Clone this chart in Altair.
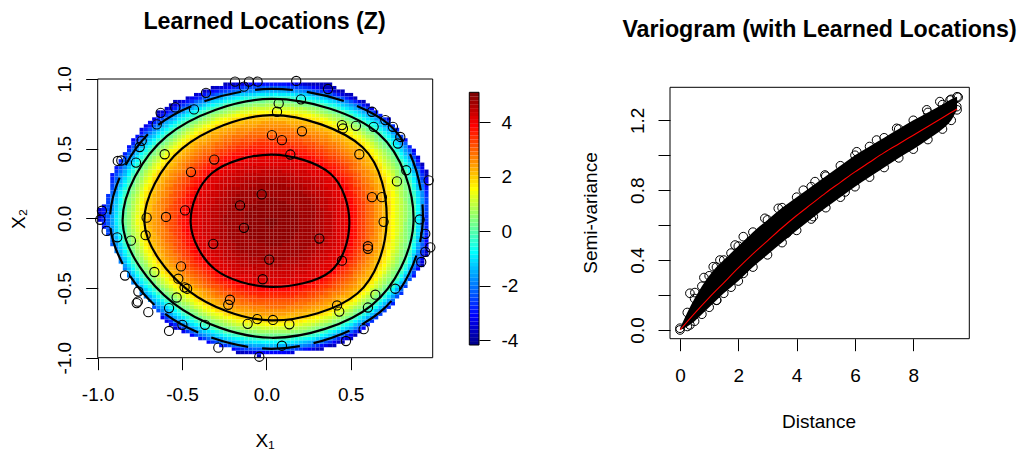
import numpy as np
import pandas as pd
import altair as alt

FONT = "Liberation Sans"

# ---------------- colour palette (fields::tim.colors(64)) ----------------
TIM = ["#00008F","#00009F","#0000AF","#0000BF","#0000CF","#0000DF","#0000EF","#0000FF",
       "#0010FF","#0020FF","#0030FF","#0040FF","#0050FF","#0060FF","#0070FF","#0080FF",
       "#008FFF","#009FFF","#00AFFF","#00BFFF","#00CFFF","#00DFFF","#00EFFF","#00FFFF",
       "#10FFEF","#20FFDF","#30FFCF","#40FFBF","#50FFAF","#60FF9F","#70FF8F","#80FF80",
       "#8FFF70","#9FFF60","#AFFF50","#BFFF40","#CFFF30","#DFFF20","#EFFF10","#FFFF00",
       "#FFEF00","#FFDF00","#FFCF00","#FFBF00","#FFAF00","#FF9F00","#FF8F00","#FF8000",
       "#FF7000","#FF6000","#FF5000","#FF4000","#FF3000","#FF2000","#FF1000","#FF0000",
       "#EF0000","#DF0000","#CF0000","#BF0000","#AF0000","#9F0000","#8F0000","#800000"]
z_min, z_max = -4.18, 5.10

# ---------------- left panel: learned locations ----------------
loc_x = [-0.186,-0.133,-0.103,-0.052,0.177,-0.358,-0.54,-0.627,-0.429,-0.65,-0.739,-0.751,-0.881,-0.86,-0.773,
         -0.603,-0.309,-0.447,-0.028,-0.156,-0.482,-0.595,-0.71,-0.975,-0.985,-0.947,
         -0.884,-0.803,-0.716,-0.133,-0.315,0.017,-0.022,-0.506,-0.664,-0.838,-0.522,-0.485,-0.47,-0.532,
         -0.759,-0.769,-0.762,-0.70,-0.577,-0.498,-0.577,-0.364,-0.285,-0.216,-0.226,-0.111,-0.054,-0.042,
         0.039,0.136,0.092,0.472,0.577,0.419,0.432,0.602,0.646,0.764,0.448,0.602,0.602,0.314,0.695,0.909,
         0.942,0.972,0.942,0.918,
         0.626,0.685,0.774,0.829,0.962,0.78,0.794,0.75,0.705,0.626,0.636,0.531,0.448,0.454,0.551,0.365,
         0.205,0.073,0.063,0.211,0.033,0.092,0.142]
loc_y = [0.981,0.945,0.981,0.981,0.986,0.901,0.796,0.757,0.782,0.674,0.556,0.512,0.412,0.415,0.40,
         0.46,0.422,0.332,0.172,0.093,0.057,0.01,0.005,0.055,-0.01,-0.09,
         -0.136,-0.16,-0.121,-0.068,-0.183,-0.296,-0.437,-0.345,-0.385,-0.41,-0.433,-0.495,-0.505,-0.568,
         -0.525,-0.608,-0.598,-0.673,-0.644,-0.764,-0.808,-0.764,-0.928,-0.584,-0.62,-0.757,-0.723,-0.993,
         -0.729,-0.76,-0.914,-0.88,-0.795,-0.625,-0.669,-0.64,-0.548,-0.505,-0.304,-0.20,-0.219,-0.145,-0.025,-0.008,
         -0.111,-0.208,-0.241,-0.313,
         0.152,0.152,0.265,0.345,0.273,0.537,0.584,0.657,0.705,0.765,0.657,0.664,0.669,0.645,0.46,0.928,
         0.854,0.825,0.765,0.625,0.597,0.561,0.458]

# outline of the drawn surface
edge_x = [-0.20,0.20,0.369,0.567,0.725,0.843,0.922,0.962,0.972,0.972,0.93,0.764,0.645,0.527,0.369,0.15,-0.04,-0.15,
          -0.226,-0.423,-0.581,-0.70,-0.80,-0.858,-0.917,-0.976,-0.99,-0.993,-0.947,-0.917,-0.838,-0.759,-0.641,-0.542,-0.364]
edge_y = [0.984,0.984,0.969,0.849,0.717,0.548,0.404,0.309,0.25,-0.22,-0.33,-0.597,-0.74,-0.86,-0.932,-0.965,-0.99,-0.975,
          -0.932,-0.86,-0.764,-0.597,-0.453,-0.332,-0.188,-0.044,-0.02,0.06,0.116,0.309,0.476,0.62,0.765,0.837,0.921]

# contour radii (distance from the peak) in 8 directions: E, NE, N, NW, W, SW, S, SE
peak_x, peak_y = 0.03, -0.03
dir_deg = [0, 45, 90, 135, 180, 225, 270, 315]
rad_4 = [0.462, 0.495, 0.488, 0.50, 0.479, 0.474, 0.462, 0.495]
rad_2 = [0.683, 0.764, 0.771, 0.75, 0.753, 0.693, 0.702, 0.72]
rad_0 = [0.842, 0.90, 0.887, 0.877, 0.882, 0.82, 0.827, 0.84]
rad_m2 = [0.897, 0.99, 0.959, 0.97, 0.957, 0.91, 0.906, 0.91]
rad_edge = [0.944, 1.02, 1.014, 1.03, 1.024, 0.95, 0.947, 0.947]
peak_value, mid_value, edge_value = 5.0, 4.7, -3.6

# ---------------- right panel: variogram ----------------
vg_d = [0, 0.25, 0.5, 0.75, 1.0, 1.25, 1.5, 1.75, 2.0, 2.5, 3.0, 3.5, 4.0, 4.5, 5.0, 5.5, 6.0, 6.5, 7.0, 7.5, 8.0, 8.5, 9.0, 9.3, 9.5]
vg_hi = [0.01, 0.10, 0.18, 0.25, 0.31, 0.36, 0.40, 0.44, 0.48, 0.56, 0.63, 0.70, 0.76, 0.82, 0.88, 0.94, 1.00, 1.05, 1.10, 1.15, 1.20, 1.245, 1.29, 1.32, 1.335]
vg_lo = [0.0, 0.02, 0.05, 0.09, 0.13, 0.17, 0.21, 0.245, 0.28, 0.36, 0.43, 0.50, 0.57, 0.635, 0.70, 0.76, 0.82, 0.875, 0.93, 0.985, 1.035, 1.09, 1.15, 1.20, 1.26]
# individual circles that stick out of the dense band
out_d = [0.34, 0.51, 0.82, 1.14, 1.37, 1.89, 2.17, 2.91, 3.37, 4.23, 4.63, 4.97, 6.06, 6.74, 7.43, 8.46, 8.91,
         9.26, 9.54, 9.49,
         0.34, 1.26, 2.17, 3.66, 4.57, 5.66, 6.74, 7.94, 8.8]
out_g = [0.21, 0.214, 0.30, 0.362, 0.40, 0.486, 0.534, 0.639, 0.696, 0.80, 0.849, 0.887, 1.02, 1.087, 1.154, 1.26, 1.307,
         1.316, 1.332, 1.278,
         0.029, 0.17, 0.324, 0.553, 0.649, 0.79, 0.935, 1.068, 1.183]
fit_d = [0, 0.5, 1, 1.5, 2, 2.5, 3, 3.5, 4, 4.5, 5, 5.5, 6, 6.5, 7, 7.5, 8, 8.5, 9, 9.5]
fit_g = [0, 0.095, 0.185, 0.27, 0.355, 0.435, 0.51, 0.585, 0.655, 0.72, 0.785, 0.845, 0.905, 0.96,
         1.015, 1.065, 1.115, 1.165, 1.215, 1.265]

# ---------------- layout (pixel ranges of the plot regions) ----------------
L_XDOM, L_YDOM = [-1.0, 0.986], [-1.0, 1.0]
R_XDOM, R_YDOM = [-0.343, 9.92], [-0.05, 1.389]
L_XR, L_YR = [97.7, 432.7], [357.7, 79.0]
R_XR, R_YR = [670.0, 969.3], [338.7, 87.3]
C_XR, C_YR = [469.3, 479.0], [345.0, 92.3]
W, H = 1021, 453

# ---------------- build tables ----------------
def inside_poly(px, py, vx, vy):
    vx = np.asarray(vx); vy = np.asarray(vy)
    res = np.zeros(px.shape, dtype=bool)
    n = len(vx)
    j = n - 1
    for i in range(n):
        cond = ((vy[i] > py) != (vy[j] > py)) & \
               (px < (vx[j] - vx[i]) * (py - vy[i]) / (vy[j] - vy[i] + 1e-12) + vx[i])
        res ^= cond
        j = i
    return res

nx, ny = 80, 80
xe = np.linspace(L_XDOM[0], L_XDOM[1], nx + 1)
ye = np.linspace(L_YDOM[0], L_YDOM[1], ny + 1)
XC, YC = np.meshgrid((xe[:-1] + xe[1:]) / 2, (ye[:-1] + ye[1:]) / 2)
X0, Y0 = np.meshgrid(xe[:-1], ye[:-1])
X1, Y1 = np.meshgrid(xe[1:], ye[1:])
dx, dy = XC - peak_x, YC - peak_y
rr = np.hypot(dx, dy)
th = np.degrees(np.arctan2(dy, dx)) % 360
ang = dir_deg + [360]

def at_dir(tab):
    return np.interp(th, ang, tab + [tab[0]])

R4, R2, R0, RM2, RE = at_dir(rad_4), at_dir(rad_2), at_dir(rad_0), at_dir(rad_m2), at_dir(rad_edge)
vals = np.empty(rr.shape)
for idx in np.ndindex(rr.shape):
    vals[idx] = np.interp(rr[idx],
                          [0, R4[idx] * 0.55, R4[idx], R2[idx], R0[idx], RM2[idx], RE[idx]],
                          [peak_value, mid_value, 4, 2, 0, -2, edge_value])
mask = inside_poly(XC, YC, edge_x, edge_y)
heat_df = pd.DataFrame({"x": X0[mask], "x2": X1[mask], "y": Y0[mask], "y2": Y1[mask], "v": vals[mask]})

rows = []
for lev, tab in [("4", rad_4), ("2", rad_2), ("0", rad_0), ("-2", rad_m2)]:
    for k, (a, r) in enumerate(zip(dir_deg, tab)):
        rows.append({"level": lev, "k": k,
                     "x": peak_x + r * np.cos(np.radians(a)),
                     "y": peak_y + r * np.sin(np.radians(a))})
cont_df = pd.DataFrame(rows)

pts_df = pd.DataFrame({"x": loc_x, "y": loc_y})
lbox_df = pd.DataFrame({"x": [L_XDOM[0]], "x2": [L_XDOM[1]], "y": [L_YDOM[0]], "y2": [L_YDOM[1]]})

band_df = pd.DataFrame({"d": vg_d, "lo": vg_lo, "hi": vg_hi})
circ_df = pd.DataFrame({"d": vg_d + vg_d + out_d, "g": vg_hi + vg_lo + out_g})
fit_df = pd.DataFrame({"d": fit_d, "g": fit_g})
rbox_df = pd.DataFrame({"d": [R_XDOM[0]], "d2": [R_XDOM[1]], "g": [R_YDOM[0]], "g2": [R_YDOM[1]]})

cedges = np.linspace(z_min, z_max, len(TIM) + 1)
cbar_df = pd.DataFrame({"x": 0.0, "x2": 1.0, "y": cedges[:-1], "y2": cedges[1:],
                        "v": (cedges[:-1] + cedges[1:]) / 2})
cbox_df = pd.DataFrame({"x": [0.0], "x2": [1.0], "y": [z_min], "y2": [z_max]})

# ---------------- scales & axes ----------------
def sc(dom, rng):
    return alt.Scale(domain=dom, range=rng, zero=False, nice=False)

col_scale = alt.Scale(type="quantize", domain=[z_min, z_max], range=TIM)
MINUS = "replace(datum.label, '\u2212', '-')"
common = dict(domain=False, grid=False, title=None, labelFont=FONT, labelFontSize=19,
              labelColor="black", tickColor="black", tickWidth=1, labelFlush=False,
              labelOverlap=False)

lx_axis = alt.Axis(orient="bottom", offset=L_YR[0] - H, values=[-1, -0.5, 0, 0.5], format=".1f",
                   labelExpr=MINUS, tickSize=12, labelPadding=31, labelBaseline="alphabetic", **common)
ly_axis = alt.Axis(orient="left", offset=-L_XR[0], values=[-1, -0.5, 0, 0.5, 1], format=".1f",
                   labelExpr=MINUS, tickSize=12, labelPadding=15, labelAngle=270, labelAlign="center",
                   labelBaseline="alphabetic", **common)
rx_axis = alt.Axis(orient="bottom", offset=R_YR[0] - H, values=[0, 2, 4, 6, 8], format="d",
                   tickSize=12, labelPadding=31, labelBaseline="alphabetic", **common)
ry_axis = alt.Axis(orient="left", offset=-R_XR[0], values=[0, 0.2, 0.4, 0.6, 0.8, 1.0, 1.2], format=".1f",
                   labelExpr="indexof(['0.0','0.4','0.8','1.2'], datum.label) >= 0 ? datum.label : ''",
                   tickSize=12, labelPadding=15, labelAngle=270, labelAlign="center",
                   labelBaseline="alphabetic", **common)
cy_axis = alt.Axis(orient="right", offset=C_XR[1] - W, values=[-4, -2, 0, 2, 4], format="d",
                   labelExpr=MINUS, tickSize=11, labelPadding=11, labelAlign="left",
                   labelBaseline="middle", **common)

lxs, lys = sc(L_XDOM, L_XR), sc(L_YDOM, L_YR)
rxs, rys = sc(R_XDOM, R_XR), sc(R_YDOM, R_YR)
cxs, cys = sc([0, 1], C_XR), sc([z_min, z_max], C_YR)

# ---------------- left panel ----------------
heat = alt.Chart(heat_df).mark_rect(strokeWidth=0).encode(
    x=alt.X("x:Q", scale=lxs, axis=lx_axis), x2="x2:Q",
    y=alt.Y("y:Q", scale=lys, axis=ly_axis), y2="y2:Q",
    color=alt.Color("v:Q", scale=col_scale, legend=None))
cont_solid = alt.Chart(cont_df).transform_filter("datum.level != '-2'").mark_line(
    interpolate="cardinal-closed", color="black", strokeWidth=2.2).encode(
    x=alt.X("x:Q", scale=lxs), y=alt.Y("y:Q", scale=lys), detail="level:N", order="k:Q")
cont_dash = alt.Chart(cont_df).transform_filter("datum.level == '-2'").mark_line(
    interpolate="cardinal-closed", color="black", strokeWidth=2.2, strokeDash=[38, 14]).encode(
    x=alt.X("x:Q", scale=lxs), y=alt.Y("y:Q", scale=lys), detail="level:N", order="k:Q")
pts = alt.Chart(pts_df).mark_point(shape="circle", filled=False, color="black", size=85,
                                   strokeWidth=1.1, opacity=1).encode(
    x=alt.X("x:Q", scale=lxs), y=alt.Y("y:Q", scale=lys))
lbox = alt.Chart(lbox_df).mark_rect(fillOpacity=0, stroke="black", strokeWidth=1).encode(
    x=alt.X("x:Q", scale=lxs), x2="x2:Q", y=alt.Y("y:Q", scale=lys), y2="y2:Q")
left = alt.layer(heat, cont_solid, cont_dash, pts, lbox)

# ---------------- colour bar ----------------
cbar = alt.Chart(cbar_df).mark_rect(strokeWidth=0).encode(
    x=alt.X("x:Q", scale=cxs, axis=None), x2="x2:Q",
    y=alt.Y("y:Q", scale=cys, axis=cy_axis), y2="y2:Q",
    color=alt.Color("v:Q", scale=col_scale, legend=None))
cbox = alt.Chart(cbox_df).mark_rect(fillOpacity=0, stroke="black", strokeWidth=1).encode(
    x=alt.X("x:Q", scale=cxs), x2="x2:Q", y=alt.Y("y:Q", scale=cys), y2="y2:Q")
colorbar = alt.layer(cbar, cbox)

# ---------------- right panel ----------------
band = alt.Chart(band_df).mark_area(color="black", interpolate="monotone").encode(
    x=alt.X("d:Q", scale=rxs, axis=rx_axis), y=alt.Y("lo:Q", scale=rys, axis=ry_axis), y2="hi:Q")
circ = alt.Chart(circ_df).mark_point(shape="circle", filled=False, color="black", size=75,
                                     strokeWidth=1, opacity=1).encode(
    x=alt.X("d:Q", scale=rxs), y=alt.Y("g:Q", scale=rys))
fit = alt.Chart(fit_df).mark_line(color="#FF0000", strokeWidth=1.1, interpolate="monotone").encode(
    x=alt.X("d:Q", scale=rxs), y=alt.Y("g:Q", scale=rys))
rbox = alt.Chart(rbox_df).mark_rect(fillOpacity=0, stroke="black", strokeWidth=1).encode(
    x=alt.X("d:Q", scale=rxs), x2="d2:Q", y=alt.Y("g:Q", scale=rys), y2="g2:Q")
right = alt.layer(band, circ, fit, rbox)

# ---------------- texts ----------------
def txt(s, x, y, size=19, bold=False, angle=0):
    kw = dict(text=s, font=FONT, fontSize=size, fontWeight="bold" if bold else "normal",
              align="center", baseline="alphabetic", color="black")
    if angle:
        kw["angle"] = angle
    return alt.Chart(pd.DataFrame({"a": [0]})).mark_text(**kw).encode(
        x=alt.value(x), y=alt.value(y))

texts = [
    txt("Learned Locations (Z)", 264.5, 29, 23.2, True),
    txt("Variogram (with Learned Locations)", 819.5, 37, 23.2, True),
    txt("X\u2081", 265, 447),
    txt("X\u2082", 25, 219, angle=270),
    txt("Semi-variance", 597, 213, angle=270),
    txt("Distance", 819, 428),
]

chart = alt.layer(left, colorbar, right, *texts).resolve_scale(
    x="independent", y="independent").properties(
    width=W, height=H, autosize=alt.AutoSizeParams(type="none"), padding=0,
    background="white").configure_view(stroke=None)

chart.save("out.html", embed_options={"renderer": "svg", "actions": False})
